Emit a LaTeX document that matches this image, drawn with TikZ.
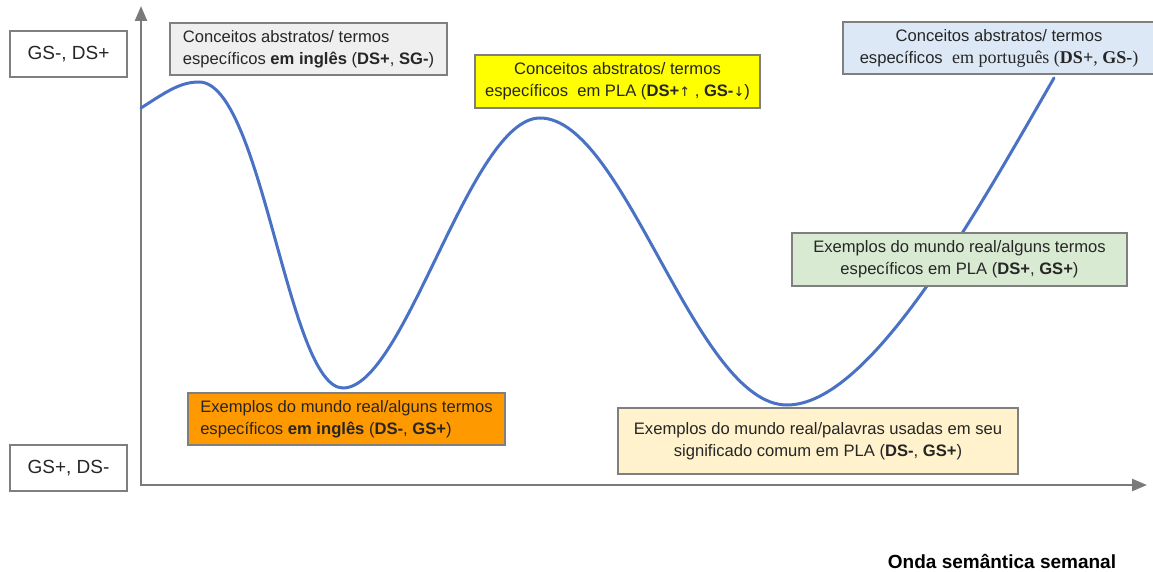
\documentclass[tikz,border=0pt]{standalone}
\usepackage{fontspec}
\setmainfont{Liberation Sans}
\newfontfamily\serifpt{Liberation Serif}
\newfontfamily\arrfont{DejaVu Sans}
\usetikzlibrary{arrows.meta}
\definecolor{axisgray}{HTML}{7A7A7A}
\definecolor{boxgray}{HTML}{7F7F7F}
\definecolor{wave}{HTML}{4A72C4}
\definecolor{fillgray}{HTML}{EFEFEF}
\definecolor{fillyellow}{HTML}{FFFF00}
\definecolor{fillblue}{HTML}{DCE8F5}
\definecolor{fillgreen}{HTML}{D9EAD3}
\definecolor{fillorange}{HTML}{FF9900}
\definecolor{fillcream}{HTML}{FFF2CC}
\definecolor{txt}{HTML}{262626}
\tikzset{
  box/.style={draw=boxgray, line width=1.2pt, inner sep=0pt, align=center, text=txt,
    font=\fontsize{16.6}{22}\selectfont},
  axisbox/.style={draw=boxgray, line width=1.2pt, fill=white, inner sep=0pt, text=txt,
    minimum width=117pt, minimum height=46pt, font=\fontsize{19}{22}\selectfont},
  axisline/.style={draw=axisgray, line width=2.4pt, -{Triangle[length=15pt,width=12pt]}},
  waveline/.style={draw=wave, line width=3pt, line cap=round}
}
\newcommand{\uparr}{{\arrfont\fontsize{13}{13}\selectfont↑}}
\newcommand{\downarr}{{\arrfont\fontsize{13}{13}\selectfont↓}}
\begin{document}
\begin{tikzpicture}[x=1pt,y=-1pt]
\useasboundingbox (0,0) rectangle (1153,572);
% axes
\coordinate (origin) at (141,486);
\coordinate (ytop) at (141,6);
\coordinate (xstart) at (141,485);
\coordinate (xend) at (1147,485);
\draw[axisline] (origin) -- (ytop);
\draw[axisline] (xstart) -- (xend);
% wave
\coordinate (w0) at (141,108);
\coordinate (w1) at (199,82);
\coordinate (w2) at (343,388);
\coordinate (w3) at (540,118);
\coordinate (w4) at (787,405);
\coordinate (w5) at (1054,78);
\draw[waveline] (w0) .. controls (166,92) and (180,82) .. (w1)
  .. controls (262,82) and (288,388) .. (w2)
  .. controls (405,388) and (470,118) .. (w3)
  .. controls (625,118) and (695,405) .. (w4)
  .. controls (870,405) and (975,215) .. (w5);
% axis labels
\node[axisbox] (top) at (68.5,54) {GS-, DS+};
\node[axisbox] (bot) at (68.5,468) {GS+, DS-};
% boxes
\node[box, fill=fillgray, minimum width=277pt, minimum height=52pt, align=left] (b1) at (308.5,49)
  {Conceitos abstratos/ termos\\específicos \textbf{em inglês} (\textbf{DS+}, \textbf{SG-})};
\node[box, fill=fillyellow, minimum width=285pt, minimum height=53pt] (b2) at (617.5,81.5)
  {Conceitos abstratos/ termos\\específicos\ \ em PLA (\textbf{DS+}\uparr\ , \textbf{GS-}\downarr)};
\node[box, fill=fillblue, minimum width=312pt, minimum height=52pt] (b3) at (999,48)
  {Conceitos abstratos/ termos\\específicos\ \ {\serifpt\fontsize{18}{22}\selectfont em português (\textbf{DS+}, \textbf{GS-})}};
\node[box, fill=fillgreen, minimum width=335pt, minimum height=53pt] (b4) at (959.5,259.5)
  {Exemplos do mundo real/alguns termos\\específicos em PLA (\textbf{DS+}, \textbf{GS+})};
\node[box, fill=fillorange, minimum width=317pt, minimum height=52pt, align=left, inner xsep=12pt] (b5) at (346.5,419)
  {Exemplos do mundo real/alguns termos\\específicos \textbf{em inglês} (\textbf{DS-}, \textbf{GS+})};
\node[box, fill=fillcream, minimum width=400pt, minimum height=66pt] (b6) at (818,441)
  {Exemplos do mundo real/palavras usadas em seu\\significado comum em PLA (\textbf{DS-}, \textbf{GS+})};
% title
\node[font=\bfseries\fontsize{19}{22}\selectfont, text=black] (title) at (1002,561) {Onda semântica semanal};
\end{tikzpicture}
\end{document}
